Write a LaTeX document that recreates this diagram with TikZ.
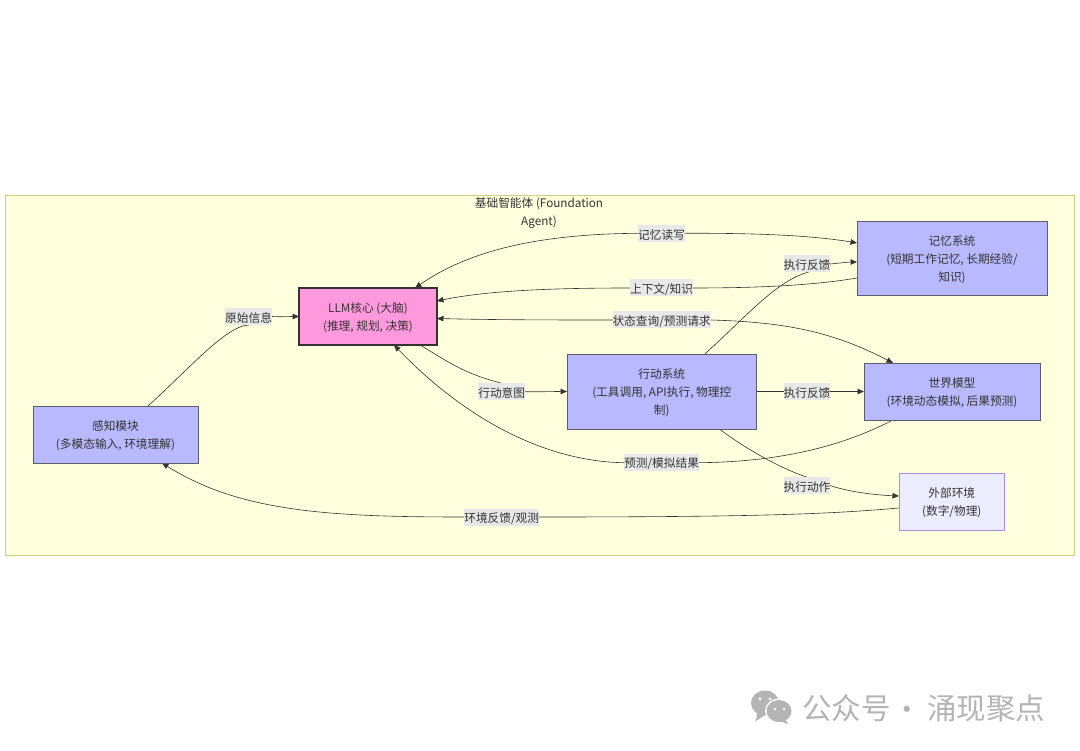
\documentclass[tikz,border=0pt]{standalone}
\usepackage{fontspec}
\setmainfont{Noto Sans CJK SC}
\usetikzlibrary{arrows.meta}
\definecolor{ink}{HTML}{333333}
\definecolor{wm}{HTML}{B4B4B4}
\definecolor{modfill}{HTML}{B9B9FF}
\definecolor{modline}{HTML}{5C5C70}
\definecolor{labelfill}{HTML}{E8E8E8}
\definecolor{frameline}{HTML}{CFCF80}
\definecolor{framefill}{HTML}{FFFFDE}
\definecolor{corefill}{HTML}{FF99DD}
\definecolor{envline}{HTML}{AA8CE1}
\definecolor{envfill}{HTML}{ECECFF}
\newcommand{\toplift}{\rule{0pt}{12.4pt}}
\pgfdeclarelayer{bglayer}
\pgfdeclarelayer{edgelayer}
\pgfsetlayers{bglayer,edgelayer,main}
\tikzset{
  txt/.style={font=\fontsize{11.7}{18}\selectfont,text=ink,align=center,inner sep=0pt,outer sep=0pt},
  module/.style={txt,draw=modline,fill=modfill,line width=.7pt},
  edgelabel/.style={font=\fontsize{11.7}{14}\selectfont,text=ink,fill=labelfill,inner xsep=0pt,inner ysep=0pt,minimum height=17pt,outer sep=0pt,execute at begin node=\toplift},
  link/.style={draw=ink,line width=.6pt,-{Triangle[length=6.5pt,width=5.5pt]}},
  linkboth/.style={draw=ink,line width=.6pt,{Triangle[length=6.5pt,width=5.5pt]}-{Triangle[length=6.5pt,width=5.5pt]}},
  mark text/.style={font=\fontsize{29.5}{30}\selectfont,text=wm,inner sep=0pt,outer sep=0pt,anchor=west}
}
\begin{document}
\begin{tikzpicture}[x=1pt,y=-1pt]
\useasboundingbox (0,0) rectangle (1080,751);
\begin{pgfonlayer}{bglayer}
\fill[white] (0,0) rectangle (1080,751);
\draw[draw=frameline,fill=framefill,line width=.8pt] (5.5,195.5) rectangle (1074.5,555.5);
\end{pgfonlayer}
\node[txt] (title) at (539,212) {\toplift 基础智能体 (Foundation\\Agent)};

\node[module,minimum width=165pt,minimum height=57pt] (perc) at (115.5,434.5) {\toplift 感知模块\\(多模态输入, 环境理解)};
\node[txt,draw=ink,fill=corefill,line width=1.3pt,minimum width=138pt,minimum height=57pt] (llm) at (368,316.5) {\toplift LLM核心 (大脑)\\(推理, 规划, 决策)};
\node[module,minimum width=189.5pt,minimum height=75pt] (act) at (661.75,391.5) {\toplift 行动系统\\(工具调用, API执行, 物理控\\制)};
\node[module,minimum width=190pt,minimum height=74pt] (mem) at (952,258) {\toplift 记忆系统\\(短期工作记忆, 长期经验/\\知识)};
\node[module,minimum width=176pt,minimum height=57pt] (world) at (952,391.5) {\toplift 世界模型\\(环境动态模拟, 后果预测)};
\node[txt,draw=envline,fill=envfill,line width=.8pt,minimum width=105.5pt,minimum height=57pt] (env) at (951.75,501.5) {\toplift 外部环境\\(数字/物理)};

\node[edgelabel] (l1) at (248.6,316.5) {原始信息};
\node[edgelabel] (l2) at (661.6,233.3) {记忆读写};
\node[edgelabel] (l3) at (661.6,288) {上下文/知识};
\node[edgelabel] (l4) at (661.6,320) {状态查询/预测请求};
\node[edgelabel] (l5) at (501.7,391.7) {行动意图};
\node[edgelabel] (l6) at (807,264) {执行反馈};
\node[edgelabel] (l7) at (807,391.7) {执行反馈};
\node[edgelabel] (l8) at (661.6,462.7) {预测/模拟结果};
\node[edgelabel] (l9) at (807,485.7) {执行动作};
\node[edgelabel] (l10) at (501.7,517) {环境反馈/观测};

\begin{pgfonlayer}{edgelayer}
\draw[link] ([xshift=32.5pt]perc.north) .. controls (190,368) and (226,326) .. (l1.south) -- (l1.east) .. controls (280,317) and (290,316.5) .. (llm.west);
\draw[linkboth] ([xshift=47pt]llm.north) .. controls (470,250) and (540,234) .. (l2.west) -- (l2.east) .. controls (750,233) and (810,235) .. ([yshift=15pt]mem.west);
\draw[link] ([yshift=-20pt]mem.west) .. controls (810,286) and (750,288) .. (l3.east) -- (l3.west) .. controls (560,288) and (490,290) .. ([yshift=15.5pt]llm.east);
\draw[linkboth] ([yshift=-2pt]llm.east) .. controls (500,320) and (560,320) .. (l4.west) -- (l4.east) .. controls (780,322) and (830,330) .. ([xshift=-59pt]world.north);
\draw[link] ([xshift=52pt]llm.south) .. controls (450,363) and (465,374) .. (l5.north) -- (l5.east) .. controls (540,392) and (550,391.5) .. (act.west);
\draw[link] ([xshift=43pt]act.north) .. controls (745,318) and (775,282) .. (l6.south) -- (l6.east) .. controls (840,263) and (850,262) .. ([yshift=-4pt]mem.west);
\draw[link] (act.east) -- (world.west);
\draw[link] ([xshift=-59pt]world.south) .. controls (835,450) and (770,462) .. (l8.east) -- (l8.west) .. controls (560,462) and (478,432) .. ([xshift=26pt]llm.south);
\draw[link] ([xshift=57.5pt]act.south) .. controls (750,452) and (785,470) .. (l9.north) -- (l9.east) .. controls (850,492) and (875,495) .. ([yshift=5.5pt]env.west);
\draw[link] ([yshift=-6.5pt]env.west) .. controls (830,514) and (760,517) .. (l10.east) -- (l10.west) .. controls (330,517) and (240,512) .. ([xshift=46.5pt]perc.south);
\end{pgfonlayer}

% watermark
\fill[wm] (765,703) ellipse [x radius=14pt,y radius=12.5pt];
\fill[wm] (757,712) -- (756,721) -- (765,715) -- cycle;
\fill[white] (779,711) ellipse [x radius=14pt,y radius=12.5pt];
\fill[wm] (779,711) ellipse [x radius=12.5pt,y radius=11pt];
\fill[wm] (785,719) -- (788,724) -- (779,721) -- cycle;
\fill[white] (760,699) circle (1.7pt) (770,699) circle (1.7pt) (775,709) circle (1.4pt) (784,709) circle (1.4pt);
\node[mark text] (wm1) at (802,708) {公众号};
\node[mark text,anchor=center] (wm2) at (907,713) {·};
\node[mark text] (wm3) at (927,708) {涌现聚点};
\end{tikzpicture}
\end{document}
